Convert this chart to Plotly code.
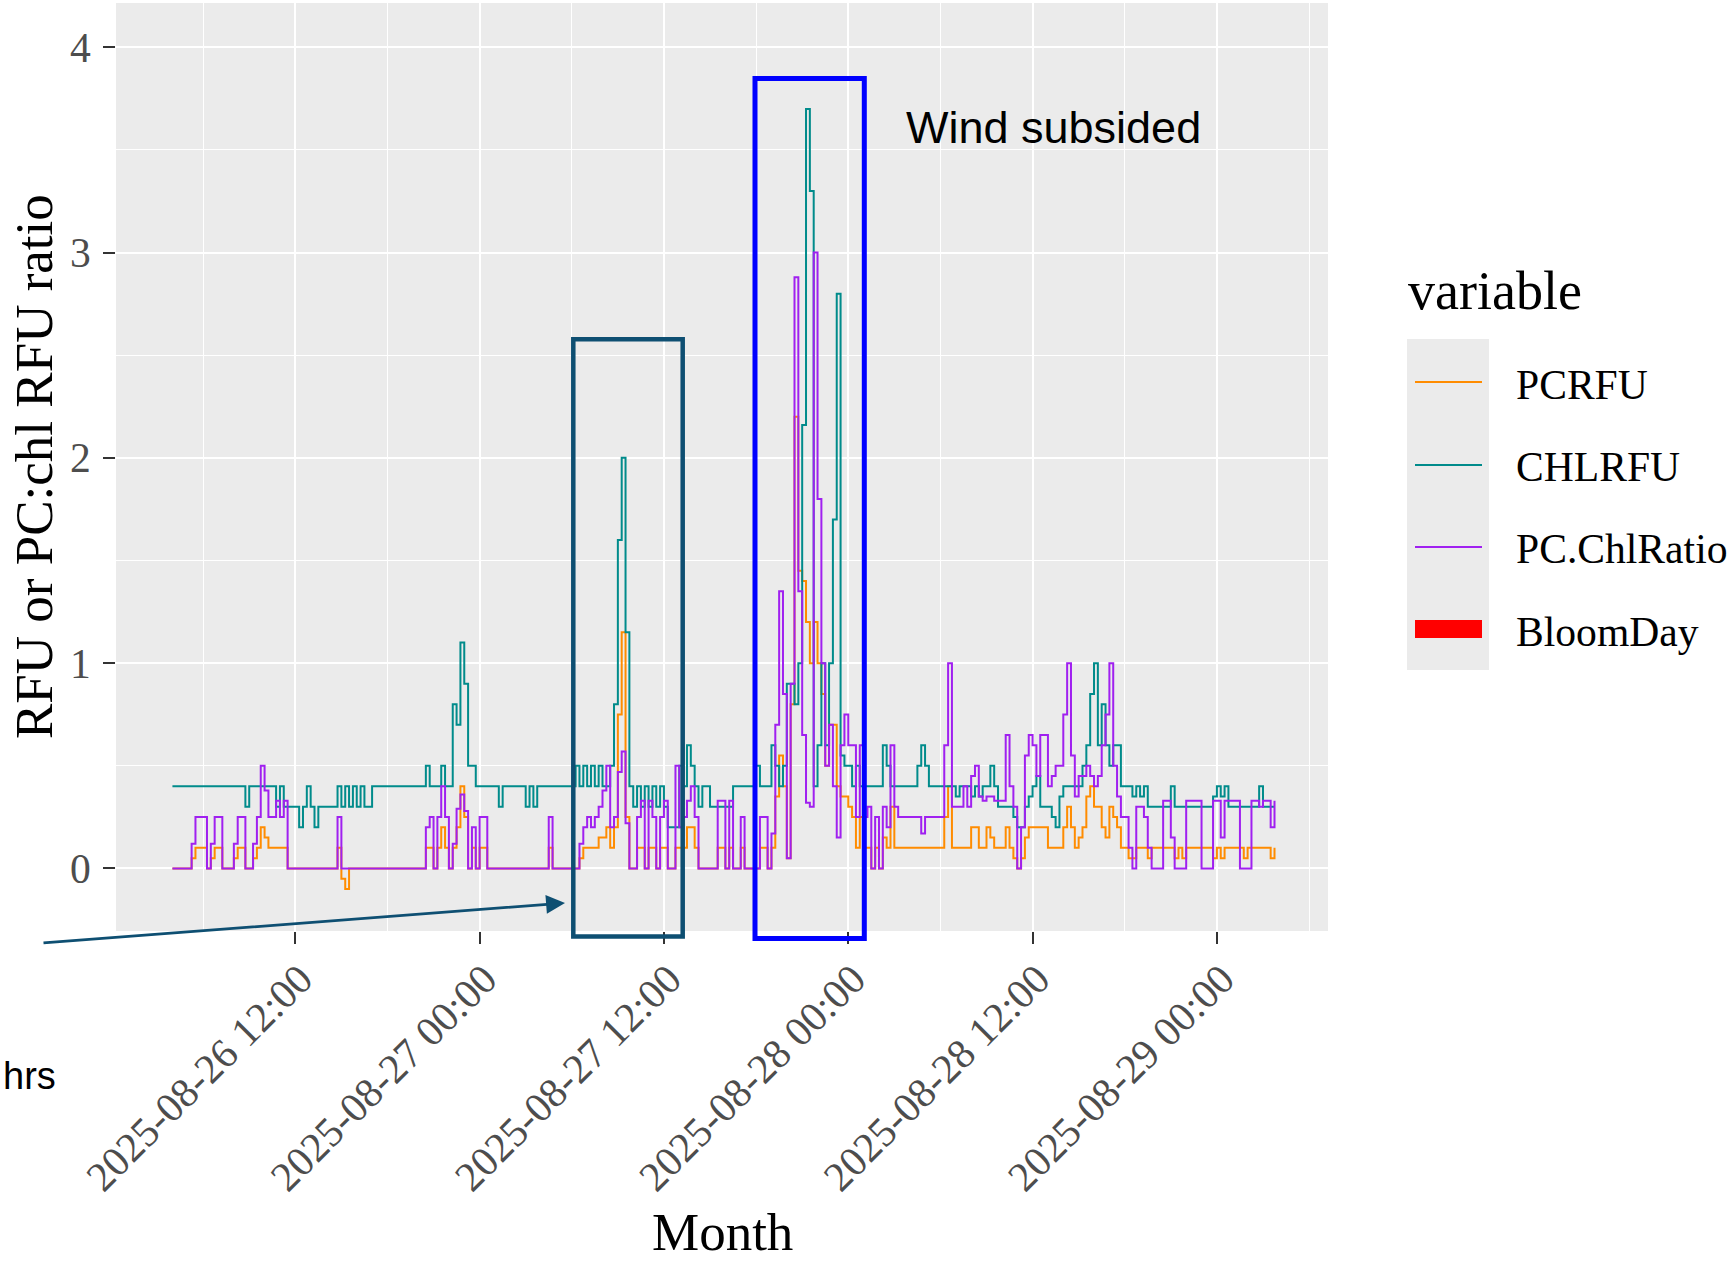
import pandas as pd
import plotly.graph_objects as go

# ---------------- data (15-minute samples) ----------------
start_time = "2025-08-26 04:00"
n_points = 288
times = pd.date_range(start=start_time, periods=n_points, freq="15min")

pcrfu = [
    0, 0, 0, 0, 0, 0.05, 0.1, 0.1, 0.1, 0,
    0.05, 0.1, 0.1, 0, 0, 0, 0.05, 0.1, 0.1, 0,
    0, 0.05, 0.1, 0.2, 0.15, 0.1, 0.1, 0.1, 0.1, 0.1,
    0, 0, 0, 0, 0, 0, 0, 0, 0, 0,
    0, 0, 0, 0.1, -0.05, -0.1, 0, 0, 0, 0,
    0, 0, 0, 0, 0, 0, 0, 0, 0, 0,
    0, 0, 0, 0, 0, 0, 0.1, 0.1, 0, 0.1,
    0.2, 0.1, 0, 0.1, 0.2, 0.4, 0.25, 0, 0.1, 0,
    0.1, 0.1, 0, 0, 0, 0, 0, 0, 0, 0,
    0, 0, 0, 0, 0, 0, 0, 0, 0.1, 0,
    0, 0, 0, 0, 0, 0, 0.05, 0.1, 0.1, 0.1,
    0.1, 0.15, 0.15, 0.2, 0.1, 0.2, 0.75, 1.15, 0.25, 0,
    0, 0.1, 0.1, 0, 0.1, 0.1, 0, 0.1, 0.1, 0,
    0, 0.1, 0.1, 0.1, 0.2, 0.2, 0.1, 0, 0, 0,
    0, 0, 0.1, 0.1, 0, 0.1, 0, 0, 0.1, 0,
    0, 0, 0, 0.1, 0.1, 0, 0.1, 0.35, 0.55, 0.4,
    0.05, 0.8, 2.2, 1.45, 1.4, 1.2, 1.0, 1.2, 1.0, 0.85,
    0.5, 0.7, 0.7, 0.4, 0.35, 0.35, 0.3, 0.25, 0.1, 0.25,
    0.1, 0.1, 0, 0.1, 0, 0.15, 0.1, 0.3, 0.1, 0.1,
    0.1, 0.1, 0.1, 0.1, 0.1, 0.1, 0.1, 0.1, 0.1, 0.1,
    0.1, 0.25, 0.4, 0.1, 0.1, 0.1, 0.1, 0.1, 0.2, 0.2,
    0.1, 0.1, 0.2, 0.15, 0.1, 0.1, 0.1, 0.2, 0.1, 0.05,
    0, 0.05, 0.15, 0.2, 0.2, 0.2, 0.2, 0.2, 0.1, 0.1,
    0.1, 0.1, 0.2, 0.3, 0.2, 0.1, 0.15, 0.2, 0.35, 0.4,
    0.3, 0.3, 0.2, 0.15, 0.3, 0.25, 0.2, 0.1, 0.1, 0.05,
    0.05, 0.1, 0.1, 0.1, 0.05, 0.1, 0.1, 0.1, 0.1, 0.1,
    0.1, 0.05, 0.1, 0.05, 0.1, 0.1, 0.1, 0.1, 0.1, 0.1,
    0.1, 0.05, 0.1, 0.05, 0.1, 0.1, 0.1, 0.1, 0.1, 0.05,
    0.1, 0.1, 0.1, 0.1, 0.1, 0.1, 0.05, 0.1,
]

chlrfu = [
    0.4, 0.4, 0.4, 0.4, 0.4, 0.4, 0.4, 0.4, 0.4, 0.4,
    0.4, 0.4, 0.4, 0.4, 0.4, 0.4, 0.4, 0.4, 0.4, 0.3,
    0.4, 0.4, 0.4, 0.4, 0.4, 0.4, 0.4, 0.3, 0.4, 0.3,
    0.3, 0.3, 0.3, 0.2, 0.3, 0.4, 0.3, 0.2, 0.3, 0.3,
    0.3, 0.3, 0.3, 0.4, 0.3, 0.4, 0.3, 0.4, 0.3, 0.4,
    0.3, 0.3, 0.4, 0.4, 0.4, 0.4, 0.4, 0.4, 0.4, 0.4,
    0.4, 0.4, 0.4, 0.4, 0.4, 0.4, 0.5, 0.4, 0.4, 0.4,
    0.5, 0.4, 0.4, 0.8, 0.7, 1.1, 0.9, 0.5, 0.5, 0.4,
    0.4, 0.4, 0.4, 0.4, 0.4, 0.3, 0.4, 0.4, 0.4, 0.4,
    0.4, 0.4, 0.3, 0.4, 0.3, 0.4, 0.4, 0.4, 0.4, 0.4,
    0.4, 0.4, 0.4, 0.4, 0.4, 0.5, 0.4, 0.5, 0.4, 0.5,
    0.4, 0.5, 0.4, 0.4, 0.5, 0.8, 1.6, 2.0, 1.15, 0.4,
    0.3, 0.4, 0.3, 0.4, 0.3, 0.4, 0.3, 0.4, 0.3, 0.2,
    0.2, 0.2, 0.5, 0.4, 0.6, 0.5, 0.4, 0.3, 0.4, 0.4,
    0.3, 0.3, 0.3, 0.3, 0.3, 0.3, 0.4, 0.4, 0.4, 0.4,
    0.4, 0.4, 0.5, 0.4, 0.4, 0.4, 0.6, 0.5, 0.4, 0.5,
    0.9, 0.9, 0.8, 1.0, 2.16, 3.7, 3.3, 0.4, 0.6, 1.0,
    0.6, 1.0, 1.7, 2.8, 0.55, 0.5, 0.5, 0.4, 0.5, 0.4,
    0.4, 0.4, 0.4, 0.4, 0.4, 0.6, 0.5, 0.4, 0.4, 0.4,
    0.4, 0.4, 0.4, 0.4, 0.5, 0.6, 0.5, 0.4, 0.4, 0.4,
    0.4, 0.4, 0.4, 0.4, 0.35, 0.4, 0.4, 0.4, 0.35, 0.4,
    0.35, 0.4, 0.4, 0.5, 0.4, 0.3, 0.3, 0.3, 0.3, 0.25,
    0.2, 0.2, 0.3, 0.35, 0.4, 0.45, 0.3, 0.3, 0.3, 0.25,
    0.2, 0.35, 0.4, 0.4, 0.4, 0.4, 0.4, 0.5, 0.6, 0.85,
    1.0, 0.6, 0.8, 0.6, 0.5, 0.6, 0.6, 0.4, 0.4, 0.4,
    0.35, 0.4, 0.35, 0.4, 0.3, 0.3, 0.3, 0.3, 0.3, 0.3,
    0.4, 0.3, 0.3, 0.3, 0.3, 0.3, 0.3, 0.3, 0.3, 0.3,
    0.3, 0.35, 0.4, 0.35, 0.4, 0.3, 0.3, 0.3, 0.3, 0.3,
    0.3, 0.3, 0.3, 0.4, 0.3, 0.3, 0.3, 0.3,
]

pc_chl_ratio = [
    0, 0, 0, 0, 0, 0.12, 0.25, 0.25, 0.25, 0,
    0.12, 0.25, 0.25, 0, 0, 0, 0.12, 0.25, 0.25, 0,
    0, 0.12, 0.25, 0.5, 0.38, 0.25, 0.25, 0.33, 0.25, 0.33,
    0, 0, 0, 0, 0, 0, 0, 0, 0, 0,
    0, 0, 0, 0.25, 0, 0, 0, 0, 0, 0,
    0, 0, 0, 0, 0, 0, 0, 0, 0, 0,
    0, 0, 0, 0, 0, 0, 0.2, 0.25, 0, 0.25,
    0.4, 0.25, 0, 0.12, 0.29, 0.36, 0.28, 0, 0.2, 0,
    0.25, 0.25, 0, 0, 0, 0, 0, 0, 0, 0,
    0, 0, 0, 0, 0, 0, 0, 0, 0.25, 0,
    0, 0, 0, 0, 0, 0, 0.12, 0.2, 0.25, 0.2,
    0.25, 0.3, 0.38, 0.5, 0.2, 0.25, 0.47, 0.57, 0.22, 0,
    0, 0.25, 0.33, 0, 0.33, 0.25, 0, 0.25, 0.33, 0,
    0, 0.5, 0.2, 0.25, 0.33, 0.4, 0.25, 0, 0, 0,
    0, 0, 0.33, 0.33, 0, 0.33, 0, 0, 0.25, 0,
    0, 0, 0, 0.25, 0.25, 0, 0.17, 0.7, 1.35, 0.85,
    0.05, 0.9, 2.88, 1.35, 0.65, 0.32, 0.3, 3.0, 1.8, 1.0,
    0.5, 0.7, 0.4, 0.15, 0.6, 0.75, 0.6, 0.6, 0.25, 0.6,
    0.25, 0.3, 0, 0.25, 0, 0.3, 0.2, 0.6, 0.3, 0.25,
    0.25, 0.25, 0.25, 0.25, 0.25, 0.17, 0.25, 0.25, 0.25, 0.25,
    0.25, 0.6, 1.0, 0.3, 0.3, 0.3, 0.4, 0.3, 0.45, 0.5,
    0.35, 0.33, 0.35, 0.35, 0.33, 0.33, 0.33, 0.65, 0.4, 0.3,
    0, 0.2, 0.55, 0.65, 0.6, 0.45, 0.65, 0.65, 0.4, 0.45,
    0.5, 0.5, 0.75, 1.0, 0.55, 0.35, 0.45, 0.45, 0.5, 0.45,
    0.4, 0.45, 0.6, 0.75, 1.0, 0.5, 0.35, 0.25, 0.25, 0.1,
    0, 0.3, 0.3, 0.25, 0.1, 0, 0, 0, 0.33, 0.33,
    0.15, 0, 0, 0, 0.33, 0.33, 0.33, 0.33, 0, 0,
    0, 0.33, 0.33, 0.15, 0.33, 0.33, 0.33, 0.33, 0, 0,
    0, 0.33, 0.33, 0.3, 0.33, 0.33, 0.2, 0.33,
]

series_names = ["PCRFU", "CHLRFU", "PC.ChlRatio"]
series_values = [pcrfu, chlrfu, pc_chl_ratio]
series_colors = ["#FF8C00", "#008B8B", "#A020F0"]

legend_names = ["PCRFU", "CHLRFU", "PC.ChlRatio", "BloomDay"]
legend_colors = ["#FF8C00", "#008B8B", "#A020F0", "#FF0000"]

x_tick_labels = ["2025-08-26 12:00", "2025-08-27 00:00", "2025-08-27 12:00",
                 "2025-08-28 00:00", "2025-08-28 12:00", "2025-08-29 00:00"]
y_tick_values = [0, 1, 2, 3, 4]

for s in series_values:
    assert len(s) == n_points, len(s)

# ---------------- geometry ----------------
W, H = 1728, 1261
ML, MR, MT, MB = 116, 400, 3, 330
PW, PH = W - ML - MR, H - MT - MB


def px(xp):
    return (xp - ML) / PW


def py(yp):
    return (H - MB - yp) / PH


SERIF = "Liberation Serif, Times New Roman, serif"
SANS = "Liberation Sans, Arial, sans-serif"
DARK = "#0E4F72"

fig = go.Figure()
for name, vals, col in zip(series_names, series_values, series_colors):
    fig.add_trace(go.Scatter(x=times, y=vals, mode="lines", name=name,
                             line=dict(color=col, width=2.0, shape="hv"), showlegend=False))

shapes = []
annotations = []

# overlay boxes
shapes.append(dict(type="rect", xref="paper", yref="paper",
                   x0=px(573.3), x1=px(682.7), y0=py(936.5), y1=py(339.3),
                   line=dict(color=DARK, width=4.5), fillcolor="rgba(0,0,0,0)", layer="above"))
shapes.append(dict(type="rect", xref="paper", yref="paper",
                   x0=px(755), x1=px(864.3), y0=py(938.5), y1=py(78.5),
                   line=dict(color="#0000FF", width=5), fillcolor="rgba(0,0,0,0)", layer="above"))

# arrow
annotations.append(dict(x=px(565), y=py(903), xref="paper", yref="paper", text="",
                        showarrow=True, ax=42 - 565, ay=943 - 903, arrowhead=2,
                        arrowsize=1.4, arrowwidth=2.7, arrowcolor=DARK, standoff=0))

annotations.append(dict(x=px(904), y=py(128), xref="paper", yref="paper", text="Wind subsided",
                        showarrow=False, xanchor="left", yanchor="middle",
                        font=dict(family=SANS, size=45, color="black")))
annotations.append(dict(x=px(58), y=py(1076), xref="paper", yref="paper", text="hrs",
                        showarrow=False, xanchor="right", yanchor="middle",
                        font=dict(family=SANS, size=38, color="black")))

# axis titles
annotations.append(dict(x=0.5, y=py(1232), xref="paper", yref="paper", text="Month",
                        showarrow=False, xanchor="center", yanchor="middle",
                        font=dict(family=SERIF, size=53, color="black")))
annotations.append(dict(x=px(34), y=0.5, xref="paper", yref="paper",
                        text="RFU or PC:chl RFU ratio", textangle=-90,
                        showarrow=False, xanchor="center", yanchor="middle",
                        font=dict(family=SERIF, size=53, color="black")))

# manual legend (ggplot style)
annotations.append(dict(x=px(1406), y=py(291), xref="paper", yref="paper", text="variable",
                        showarrow=False, xanchor="left", yanchor="middle",
                        font=dict(family=SERIF, size=54, color="black")))
shapes.append(dict(type="rect", xref="paper", yref="paper",
                   x0=px(1407), x1=px(1489), y0=py(670), y1=py(339),
                   line=dict(width=0), fillcolor="#EBEBEB", layer="above"))
key_y = [382, 465, 547, 629]
label_y = [385, 467, 549, 632]
for i, (nm, col) in enumerate(zip(legend_names, legend_colors)):
    if nm == "BloomDay":
        shapes.append(dict(type="rect", xref="paper", yref="paper",
                           x0=px(1415), x1=px(1482), y0=py(key_y[i] + 9), y1=py(key_y[i] - 9),
                           line=dict(width=0), fillcolor=col, layer="above"))
    else:
        shapes.append(dict(type="line", xref="paper", yref="paper",
                           x0=px(1415), x1=px(1482), y0=py(key_y[i]), y1=py(key_y[i]),
                           line=dict(color=col, width=2.2), layer="above"))
    annotations.append(dict(x=px(1514), y=py(label_y[i]), xref="paper", yref="paper", text=nm,
                            showarrow=False, xanchor="left", yanchor="middle",
                            font=dict(family=SERIF, size=41.6, color="black")))

tickfont = dict(family=SERIF, size=41.6, color="#4D4D4D")

fig.update_layout(
    width=W, height=H, autosize=False,
    margin=dict(l=ML, r=MR, t=MT, b=MB, pad=0),
    paper_bgcolor="white", plot_bgcolor="#EBEBEB",
    showlegend=False,
    shapes=shapes, annotations=annotations,
    xaxis=dict(
        type="date",
        range=["2025-08-26 00:19:36", "2025-08-29 07:14:00"],
        tickmode="array", tickvals=x_tick_labels, ticktext=x_tick_labels,
        tickangle=-45, ticks="outside", ticklen=12, tickwidth=2, tickcolor="#333333",
        tickfont=tickfont, ticklabelstandoff=-6, ticklabelshift=5,
        showgrid=True, gridcolor="white", gridwidth=2.2,
        zeroline=False, showline=False, automargin=False,
        minor=dict(tick0="2025-08-26 06:00", dtick=43200000, showgrid=True,
                   gridcolor="white", gridwidth=1.1, ticks=""),
    ),
    yaxis=dict(
        range=[-0.305, 4.216],
        tickmode="array", tickvals=y_tick_values, ticktext=[str(v) for v in y_tick_values],
        ticks="outside", ticklen=12, tickwidth=2, tickcolor="#333333",
        tickfont=tickfont, ticklabelstandoff=4,
        showgrid=True, gridcolor="white", gridwidth=2.2,
        zeroline=False, showline=False, automargin=False,
        minor=dict(tick0=0.5, dtick=1, showgrid=True, gridcolor="white",
                   gridwidth=1.1, ticks=""),
    ),
)

fig.write_html("out.html", config={"displayModeBar": False})
